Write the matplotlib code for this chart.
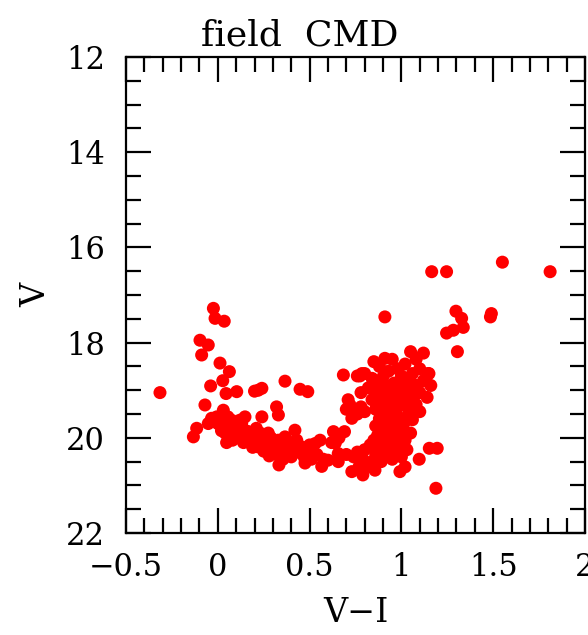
import matplotlib
matplotlib.use("Agg")
import matplotlib.pyplot as plt
from matplotlib.ticker import MultipleLocator, FuncFormatter

# field stars (V-I, V)
# bluer sequence / turnoff region
seq_vi = [-0.315, -0.024, -0.015, 0.035, -0.097, -0.052, -0.088, 0.012, 0.063,
          0.027, -0.039, 0.045, 0.103, -0.070, 0.030, -0.034, -0.006, -0.052,
          -0.115, -0.133, 0.055, 0.066, 0.120, 0.120, 0.220, 0.200, 0.240,
          0.366, 0.448, 0.490, 0.684, 0.774]
seq_v = [19.05, 17.28, 17.49, 17.55, 17.95, 18.05, 18.26, 18.43, 18.61,
         18.80, 18.91, 19.07, 19.03, 19.31, 19.42, 19.59, 19.56, 19.70,
         19.80, 19.98, 19.56, 19.77, 19.63, 19.84, 19.00, 19.02, 18.96,
         18.81, 18.98, 19.03, 18.68, 18.70]

# main band from V-I ~0 to ~0.7
band_vi = [0.000, 0.020, 0.045, 0.060, 0.075, 0.090, 0.110, 0.120, 0.130, 0.150,
           0.148, 0.166, 0.175, 0.184, 0.200, 0.210, 0.220, 0.230, 0.240, 0.245,
           0.260, 0.275, 0.275, 0.290, 0.300, 0.310, 0.320, 0.330, 0.330, 0.333,
           0.350, 0.366, 0.370, 0.384, 0.400, 0.405, 0.420, 0.430, 0.440, 0.456,
           0.470, 0.475, 0.490, 0.500, 0.510, 0.530, 0.540, 0.557, 0.566, 0.575,
           0.600, 0.630, 0.640, 0.656, 0.080, 0.057, 0.040, 0.048, 0.100, 0.140,
           0.190, 0.250, 0.280, 0.320, 0.355, 0.690, 0.660, 0.620]
band_v = [19.70, 19.85, 19.62, 19.80, 19.63, 19.90, 19.77, 19.95, 19.70, 19.85,
          19.56, 19.87, 20.00, 20.12, 19.98, 19.80, 20.19, 19.90, 19.56, 20.05,
          19.95, 19.90, 20.11, 20.00, 20.20, 20.25, 19.35, 19.52, 20.05, 20.57,
          20.15, 19.98, 20.30, 20.26, 20.40, 20.10, 19.84, 20.05, 20.30, 20.19,
          20.40, 20.53, 20.33, 20.15, 20.45, 20.12, 20.35, 20.05, 20.60, 20.45,
          20.47, 19.87, 20.11, 20.33, 20.05, 20.05, 19.90, 20.10, 20.00, 20.10,
          20.20, 20.28, 20.38, 20.35, 20.45, 19.87, 20.00, 20.10]

# red clump of stars around V-I ~ 0.9
clump_vi = [0.85, 0.91, 0.88, 0.95, 1.05, 1.12, 1.08, 1.15, 1.10, 1.02, 0.98, 0.93,
            0.80, 0.76, 0.84, 0.90, 1.00, 1.06, 1.12, 1.16, 1.08, 1.02, 0.96, 0.88,
            0.82, 0.78, 0.86, 0.92, 0.98, 1.04, 1.10, 1.14, 1.06, 1.00, 0.94, 0.90,
            0.84, 0.72, 0.73, 0.70, 0.78, 0.76, 0.80, 0.86, 0.92, 0.97, 1.03, 1.08,
            1.10, 1.04, 0.98, 0.92, 0.88, 0.86, 0.92, 0.96, 1.02, 1.06, 1.00, 0.94,
            0.89, 1.05, 0.85, 0.91, 0.96, 1.02, 0.98, 0.93, 0.88, 0.83, 0.80, 0.76,
            0.74, 0.70, 0.86, 0.92, 0.97, 1.00, 0.95, 0.89, 0.84, 0.79, 0.73, 0.79,
            0.856, 0.992, 1.02, 1.097, 1.152, 1.195, 1.188, 0.656, 0.77, 1.145, 1.13,
            0.785, 0.71,
            0.87, 0.93, 0.99, 1.05, 0.89, 0.95, 1.01, 0.87, 0.93, 0.99, 0.91, 0.97,
            0.95, 0.89, 1.01, 0.93, 0.87, 0.99, 0.90, 0.96, 0.94, 0.88, 1.03, 0.82]
clump_v = [18.40, 18.33, 18.50, 18.35, 18.19, 18.22, 18.35, 18.65, 18.55, 18.45, 18.55, 18.60,
           18.65, 18.70, 18.75, 18.72, 18.70, 18.65, 18.80, 18.90, 18.90, 18.85, 18.85, 18.90,
           18.95, 19.05, 19.05, 19.00, 19.05, 19.00, 19.05, 19.15, 19.15, 19.20, 19.15, 19.25,
           19.20, 19.31, 19.59, 19.40, 19.35, 19.50, 19.45, 19.40, 19.38, 19.40, 19.35, 19.30,
           19.45, 19.50, 19.55, 19.55, 19.60, 19.75, 19.72, 19.68, 19.65, 19.62, 19.80, 19.85,
           19.90, 19.90, 20.05, 20.05, 20.00, 20.05, 20.15, 20.20, 20.20, 20.15, 20.25, 20.30,
           20.40, 20.35, 20.35, 20.35, 20.30, 20.40, 20.45, 20.50, 20.50, 20.45, 20.71, 20.78,
           20.68, 20.71, 20.61, 20.45, 20.22, 20.22, 21.06, 20.50, 20.60, 18.65, 18.80,
           18.65, 19.20,
           18.85, 18.92, 18.95, 18.85, 19.12, 19.10, 19.12, 19.30, 19.28, 19.28, 19.48, 19.48,
           19.62, 19.70, 19.72, 19.80, 19.95, 19.92, 20.10, 20.10, 20.28, 20.28, 20.25, 20.60]

# bright red stars
bright_vi = [1.165, 1.246, 1.55, 1.81, 0.91, 1.297, 1.328, 1.337, 1.283, 1.246,
             1.49, 1.485, 1.305]
bright_v = [16.51, 16.51, 16.31, 16.51, 17.46, 17.34, 17.49, 17.68, 17.74, 17.80,
            17.39, 17.46, 18.19]

vi = seq_vi + band_vi + clump_vi + bright_vi
v = seq_v + band_v + clump_v + bright_v

plt.rcParams['font.family'] = 'DejaVu Serif'

fig = plt.figure(figsize=(5.88, 6.35), dpi=100)
ax = fig.add_axes([0.2143, 0.1606, 0.7806, 0.7496])

ax.scatter(vi, v, s=88, color='#ff0000', edgecolors='none', zorder=3)

ax.set_xlim(-0.5, 2)
ax.set_ylim(22, 12)

ax.xaxis.set_major_locator(MultipleLocator(0.5))
ax.xaxis.set_minor_locator(MultipleLocator(0.1))
ax.yaxis.set_major_locator(MultipleLocator(2))
ax.yaxis.set_minor_locator(MultipleLocator(0.5))
fmt = FuncFormatter(lambda val, pos: '{:g}'.format(val).replace('-', '\u2212'))
ax.xaxis.set_major_formatter(fmt)
ax.yaxis.set_major_formatter(fmt)

ax.tick_params(which='both', direction='in', top=True, right=True, width=1.6)
ax.tick_params(which='major', length=18, labelsize=22)
ax.tick_params(axis='x', which='major', pad=14)
ax.tick_params(axis='y', which='major', pad=15)
ax.tick_params(which='minor', length=11)
for sp in ax.spines.values():
    sp.set_linewidth(1.6)

ax.set_xlabel('V\u2212I', fontsize=24, labelpad=10)
ax.set_ylabel('V', fontsize=24, labelpad=10)
ax.text(0.379, 1.025, 'field  CMD', transform=ax.transAxes, ha='center',
        va='baseline', fontsize=26)

plt.savefig('out.png', dpi=100)
